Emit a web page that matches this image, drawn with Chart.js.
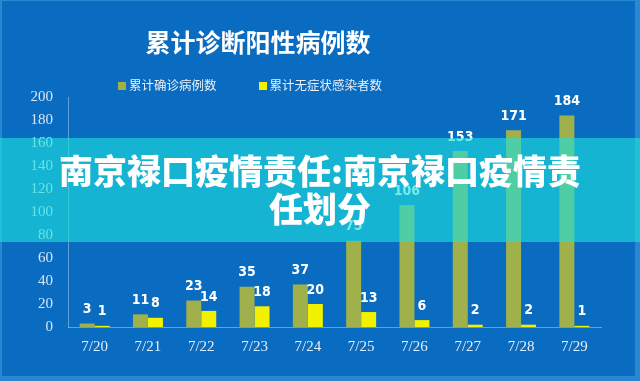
<!DOCTYPE html>
<html>
<head>
<meta charset="utf-8">
<script src="https://cdn.jsdelivr.net/npm/chart.js@4/dist/chart.umd.min.js"></script>
<style>
  html, body { margin: 0; padding: 0; }
  #wrap {
    position: relative; width: 640px; height: 381px; overflow: hidden;
    background: #0a6cc0;
    box-shadow: inset -5px -5px 0 #2a88d2, inset 2px 1px 0 #2a88d2;
  }
  #chart { position: absolute; left: 0; top: 0; }
  #title {
    position: absolute; left: 0; width: 516px; top: 24px; text-align: center;
    font-family: "Noto Sans CJK SC", sans-serif; font-weight: bold;
    font-size: 25px; color: #ffffff; line-height: 34px;
  }
  #legend {
    position: absolute; left: 118px; top: 76px; height: 18px;
    font-family: "Noto Sans CJK SC", sans-serif; font-size: 12.5px; color: #e8f0f8;
    white-space: nowrap; line-height: 18px;
  }
  #legend span.item { display: inline-block; margin-right: 42px; }
  #legend span.box { display: inline-block; width: 8px; height: 8px; margin-right: 3px; vertical-align: 0px; }
  #banner {
    position: absolute; left: 0; top: 138px; width: 640px; height: 104px;
    background: rgba(29, 224, 221, 0.62);
    text-align: center; color: #ffffff;
    font-family: "Noto Sans CJK SC", sans-serif; font-weight: 900;
    font-size: 34px; line-height: 38px; padding-top: 13px; box-sizing: border-box;
  }
</style>
</head>
<body>
<div id="wrap">
  <canvas id="chart" width="640" height="381"></canvas>
  <div id="title">累计诊断阳性病例数</div>
  <div id="legend"></div>
  <div id="banner">南京禄口疫情责任:南京禄口疫情责<br>任划分</div>
</div>
<script>
// chart data
const days = ['7/20', '7/21', '7/22', '7/23', '7/24', '7/25', '7/26', '7/27', '7/28', '7/29'];
const confirmed = [3, 11, 23, 35, 37, 75, 106, 153, 171, 184];
const asymptomatic = [1, 8, 14, 18, 20, 13, 6, 2, 2, 1];
const seriesNames = ['累计确诊病例数', '累计无症状感染者数'];
const seriesColors = ['#a0b04a', '#f2f200'];

// value labels above every bar
const valueLabels = {
    id: 'valueLabels',
    afterDatasetsDraw(chart) {
        const ctx = chart.ctx;
        ctx.save();
        ctx.fillStyle = '#ffffff';
        ctx.font = 'bold 14px "Liberation Sans Narrow", "DejaVu Sans Condensed", sans-serif';
        ctx.textAlign = 'center';
        ctx.textBaseline = 'bottom';
        chart.data.datasets.forEach(function(ds, di) {
            const meta = chart.getDatasetMeta(di);
            meta.data.forEach(function(bar, i) {
                ctx.fillText(ds.data[i], bar.x, bar.y - 7);
            });
        });
        ctx.restore();
    }
};

const data = {
    labels: days,
    datasets: [
        { label: seriesNames[0], data: confirmed, backgroundColor: seriesColors[0] },
        { label: seriesNames[1], data: asymptomatic, backgroundColor: seriesColors[1] }
    ]
};

const config = {
    type: 'bar',
    data: data,
    options: {
        responsive: false,
        animation: false,
        events: [],
        layout: { padding: { top: 97, right: 39, bottom: 0, left: 0 } },
        datasets: { bar: { barPercentage: 1, categoryPercentage: 0.5625 } },
        plugins: {
            legend: { display: false },
            title: { display: false },
            tooltip: { enabled: false }
        },
        scales: {
            x: {
                grid: { display: false, drawTicks: false },
                border: { display: true, color: 'rgba(200,225,245,0.45)', width: 1 },
                ticks: { color: '#e4eef8', padding: 11, font: { family: '"Liberation Serif", serif', size: 15 } },
                afterFit: function(scale) { scale.height = 54; }
            },
            y: {
                min: 0, max: 200,
                grid: { display: false, drawTicks: false },
                border: { display: true, color: 'rgba(200,225,245,0.45)', width: 1 },
                ticks: { stepSize: 20, color: '#d6e6f4', padding: 15, font: { family: '"Liberation Serif", serif', size: 15 } },
                afterFit: function(scale) { scale.width = 68; }
            }
        }
    },
    plugins: [valueLabels]
};

const chart = new Chart(document.getElementById('chart'), config);

// legend built from the series
const legend = document.getElementById('legend');
seriesNames.forEach(function(name, i) {
    legend.innerHTML += '<span class="item"><span class="box" style="background:' + seriesColors[i] + '"></span>' + name + '</span>';
});
</script>
</body>
</html>
